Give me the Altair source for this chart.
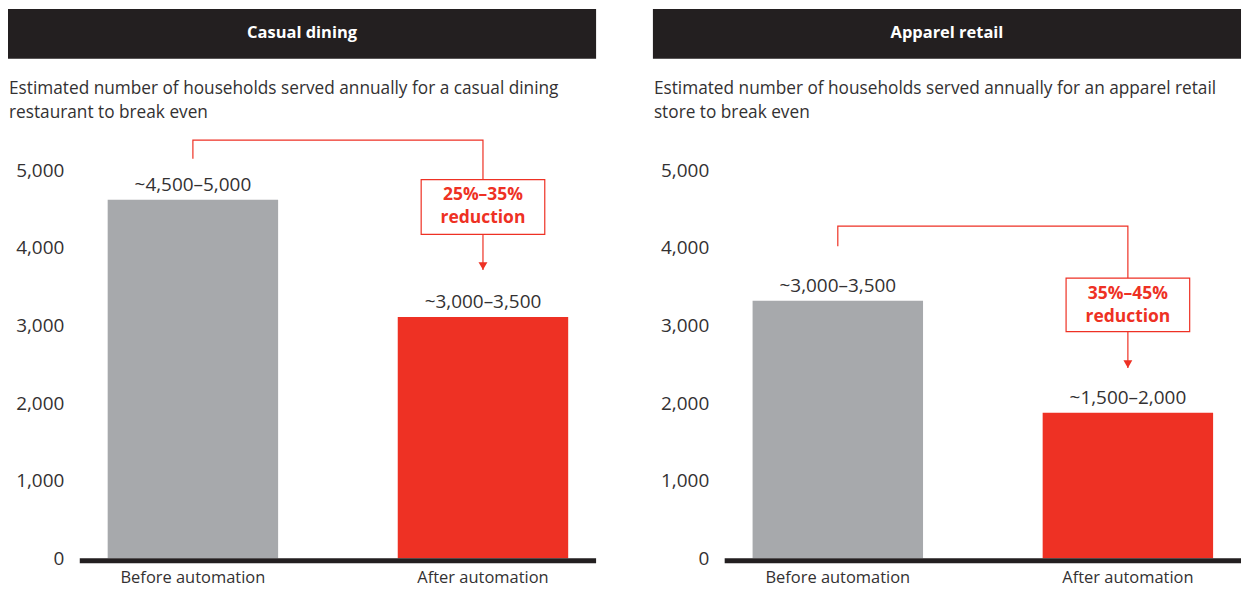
import altair as alt
import pandas as pd

# ---------------- data ----------------
categories = ["Before automation", "After automation"]
panel_titles = ["Casual dining", "Apparel retail"]
subtitles = [
    "Estimated number of households served annually for a casual dining\nrestaurant to break even",
    "Estimated number of households served annually for an apparel retail\nstore to break even",
]
casual_values = [4620, 3110]
apparel_values = [3320, 1875]
casual_labels = ["~4,500–5,000", "~3,000–3,500"]
apparel_labels = ["~3,000–3,500", "~1,500–2,000"]
reductions = ["25%–35%\nreduction", "35%–45%\nreduction"]
# annotation levels (data units)
bracket_top = [5390, 4280]
bracket_leg = [5150, 4020]
box_top = [4880, 3610]
box_bottom = [4175, 2920]
arrow_tip = [3715, 2450]
y_ticks = [0, 1000, 2000, 3000, 4000, 5000]

GRAY = "#A7A9AC"
RED = "#EE3124"
INK = "#231F20"
TEXT = "#333132"
FONT = "Open Sans"

W = 518
H = 428
Y_MAX = 5500
P_IN = 0.4124
P_OUT = 0.0962


def panel(i, values, labels):
    bars_df = pd.DataFrame({"cat": categories, "value": values, "label": labels})
    xenc = alt.X(
        "cat:N",
        sort=categories,
        scale=alt.Scale(paddingInner=P_IN, paddingOuter=P_OUT),
        axis=alt.Axis(title=None, domain=False, ticks=False, labelAngle=0,
                      labelFontSize=16.5, labelColor=TEXT, labelPadding=11,
                      labelFont=FONT),
    )
    yscale = alt.Scale(domain=[0, Y_MAX], nice=False)
    yenc = alt.Y(
        "value:Q",
        scale=yscale,
        axis=alt.Axis(title=None, domain=False, ticks=False, grid=False,
                      values=y_ticks, format=",.0f", labelFontSize=19,
                      labelColor=TEXT, labelPadding=16, labelFont=FONT),
    )
    base = alt.Chart(bars_df)
    bars = base.mark_bar().encode(
        x=xenc, y=yenc,
        color=alt.Color("cat:N", scale=alt.Scale(domain=categories, range=[GRAY, RED]), legend=None),
    )
    vlabels = base.mark_text(baseline="alphabetic", dy=-9, fontSize=19, color=TEXT, font=FONT).encode(
        x=alt.X("cat:N", sort=categories), y=alt.Y("value:Q"), text="label:N"
    )

    one = pd.DataFrame({"k": [0]})
    header = alt.Chart(one).mark_rect(color=INK).encode(
        x=alt.value(-72), x2=alt.value(W), y=alt.value(-123), y2=alt.value(-73)
    )
    header_text = alt.Chart(pd.DataFrame({"t": [panel_titles[i]]})).mark_text(
        color="white", fontWeight="bold", fontSize=16.5, font=FONT, baseline="middle", align="center"
    ).encode(x=alt.value((W - 72) / 2), y=alt.value(-99), text="t:N")
    sub_text = alt.Chart(pd.DataFrame({"t": [subtitles[i]]})).mark_text(
        color=TEXT, fontSize=17.3, font=FONT, baseline="middle", align="left",
        lineBreak="\n", lineHeight=24
    ).encode(x=alt.value(-71), y=alt.value(-43), text="t:N")

    baseline = alt.Chart(one).mark_rule(color=INK, strokeWidth=5, yOffset=2.5).encode(
        x=alt.value(0), x2=alt.value(W), y=alt.datum(0)
    )

    bracket_df = pd.DataFrame({
        "cat": [categories[0], categories[0], categories[1], categories[1]],
        "value": [bracket_leg[i], bracket_top[i], bracket_top[i], box_top[i]],
        "o": [0, 1, 2, 3],
    })
    bracket = alt.Chart(bracket_df).mark_line(color=RED, strokeWidth=1.2).encode(
        x=alt.X("cat:N", sort=categories), y=alt.Y("value:Q"), order="o:Q"
    )

    box_df = pd.DataFrame({
        "cat": [categories[1]], "top": [box_top[i]], "bot": [box_bottom[i]],
        "line1": [box_top[i] - 0.29 * (box_top[i] - box_bottom[i])], "t": [reductions[i]],
        "tip": [arrow_tip[i]],
    })
    boxc = alt.Chart(box_df)
    box = boxc.mark_bar(size=124, fill="white", stroke=RED, strokeWidth=1.2).encode(
        x=alt.X("cat:N", sort=categories), y=alt.Y("top:Q"), y2="bot:Q"
    )
    box_text = boxc.mark_text(color=RED, fontWeight="bold", fontSize=17.5, font=FONT,
                              lineBreak="\n", lineHeight=23, baseline="middle").encode(
        x=alt.X("cat:N", sort=categories), y=alt.Y("line1:Q"), text="t:N"
    )
    arrow_line = boxc.mark_rule(color=RED, strokeWidth=1.2).encode(
        x=alt.X("cat:N", sort=categories), y=alt.Y("bot:Q"), y2="tip:Q"
    )
    arrow_head = boxc.mark_point(shape="triangle-down", filled=True, color=RED, size=80,
                                 opacity=1, yOffset=-4).encode(
        x=alt.X("cat:N", sort=categories), y=alt.Y("tip:Q")
    )

    return alt.layer(
        header, header_text, sub_text, bars, vlabels, baseline,
        bracket, box, box_text, arrow_line, arrow_head
    ).properties(width=W, height=H)


chart = alt.hconcat(
    panel(0, casual_values, casual_labels),
    panel(1, apparel_values, apparel_labels),
    spacing=54,
).properties(padding=0).configure(font=FONT).configure_view(strokeWidth=0)

chart.save("out.html", embed_options={"renderer": "svg", "actions": False})
